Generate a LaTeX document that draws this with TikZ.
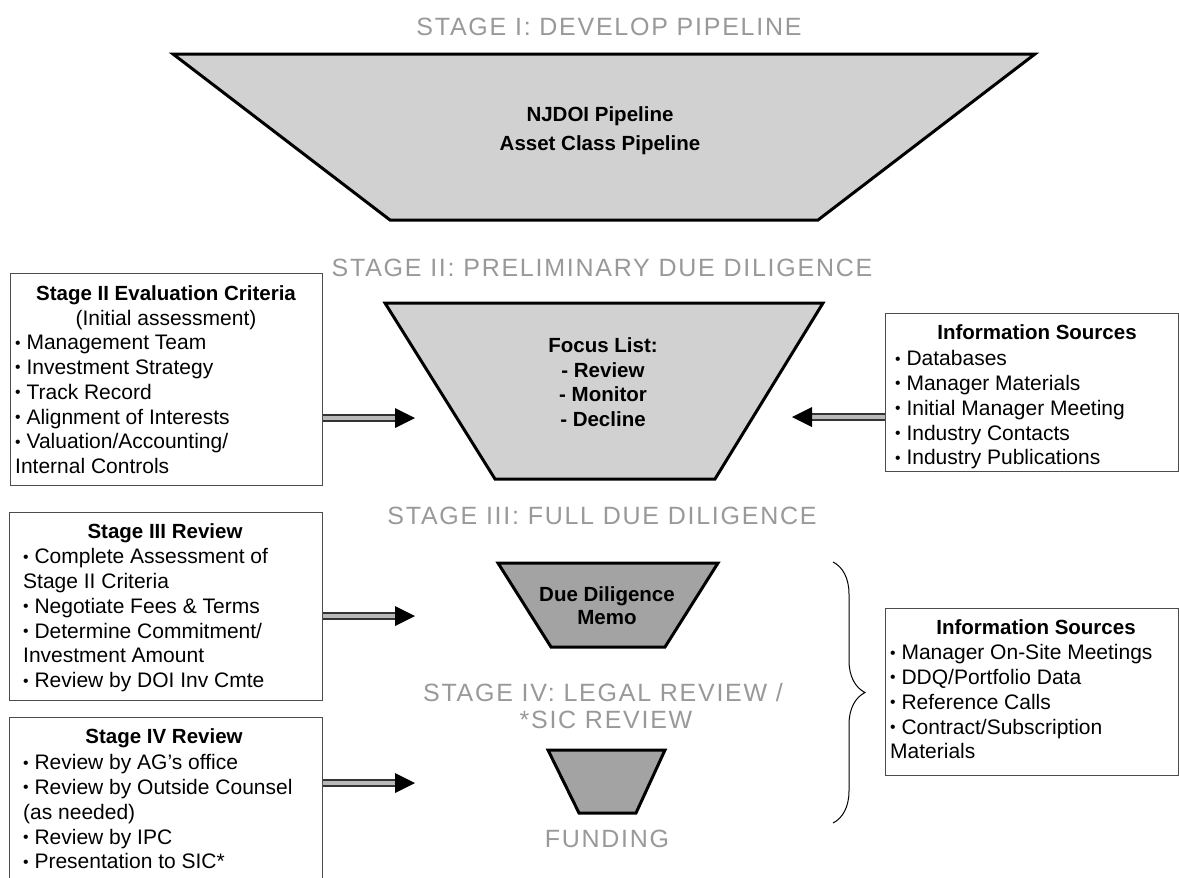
\documentclass[tikz,border=0pt]{standalone}
\usepackage{fontspec}
\setmainfont{Liberation Sans}
\newfontfamily\stagefont[LetterSpace=7]{Liberation Sans}
\usetikzlibrary{decorations.pathreplacing,calc}
\definecolor{lightfill}{gray}{0.82}
\definecolor{darkfill}{gray}{0.64}
\newcommand{\firstln}{\rule{0pt}{17pt}}
\newcommand{\bul}{\raisebox{0.08em}{\scalebox{0.75}{•}}\ }
\begin{document}
\begin{tikzpicture}[x=1pt,y=-1pt,
  stagetitle/.style={inner sep=0pt, anchor=base, text=black!40, font=\stagefont\fontsize{25}{28}\selectfont},
  funnellight/.style={draw=black, line width=3pt, fill=lightfill},
  funneldark/.style={draw=black, line width=3pt, fill=darkfill},
  boxframe/.style={draw=black!70, line width=0.8pt, inner sep=0pt, anchor=north west},
  boxtitle/.style={inner sep=0pt, anchor=base, font=\bfseries\fontsize{20.5}{24.8}\selectfont},
  boxline/.style={inner sep=0pt, anchor=base, font=\fontsize{21}{24.8}\selectfont},
  boxlist/.style={inner sep=0pt, anchor=north west, align=left, font=\fontsize{21}{24.8}\selectfont},
  funneltext/.style={inner sep=0pt, anchor=north, align=center, font=\bfseries\fontsize{20.5}{24.8}\selectfont},
  shaft/.style={draw=black!80, line width=2pt, double=gray!55, double distance=4pt},
  bracestyle/.style={decorate, decoration={brace, amplitude=32pt}, line width=1pt}
]
\useasboundingbox (0,0) rectangle (1179,878);
\fill[white] (0,0) rectangle (1179,878);

% ---------- Stage titles ----------
\node[stagetitle] (s1) at (609,35) {STAGE I: DEVELOP PIPELINE};
\node[stagetitle] (s2) at (602,276) {STAGE II: PRELIMINARY DUE DILIGENCE};
\node[stagetitle] (s3) at (602,524) {STAGE III: FULL DUE DILIGENCE};
\node[stagetitle] (s4a) at (603,701) {STAGE IV: LEGAL REVIEW /};
\node[stagetitle] (s4b) at (606,728) {*SIC REVIEW};
\node[stagetitle] (s5) at (607,847) {FUNDING};

% ---------- Funnel shapes ----------
\draw[funnellight] (173,54) -- (1035,54) -- (818,220) -- (390,220) -- cycle;
\node[funneltext, font=\bfseries\fontsize{20.5}{29}\selectfont] (f1) at (600,104)
  {\firstln NJDOI Pipeline\\Asset Class Pipeline};

\draw[funnellight] (385,303) -- (823,303) -- (715,479) -- (495,479) -- cycle;
\node[funneltext] (f2) at (603,335)
  {\firstln Focus List:\\- Review\\- Monitor\\- Decline};

\draw[funneldark] (498,563) -- (718,563) -- (665,647) -- (551,647) -- cycle;
\node[funneltext, font=\bfseries\fontsize{20.5}{23}\selectfont] (f3) at (607,584.5)
  {\firstln Due Diligence\\Memo};

\draw[funneldark] (548,750) -- (665,750) -- (636,813) -- (579,813) -- cycle;

% ---------- Left boxes ----------
\node[boxframe, minimum width=312pt, minimum height=212pt] (b1) at (10,273) {};
\node[boxtitle] (b1t) at (166,300) {Stage II Evaluation Criteria};
\node[boxline] (b1s) at (166,325) {(Initial assessment)};
\node[boxlist] (b1l) at (15,332.5)
  {\firstln \bul Management Team\\\bul Investment Strategy\\\bul Track Record\\\bul Alignment of Interests\\\bul Valuation/Accounting/\\Internal Controls};

\node[boxframe, minimum width=313pt, minimum height=188pt] (b2) at (9,512) {};
\node[boxtitle] (b2t) at (165,538.5) {Stage III Review};
\node[boxlist] (b2l) at (23,546.5)
  {\firstln \bul Complete Assessment of\\Stage II Criteria\\\bul Negotiate Fees \& Terms\\\bul Determine Commitment/\\Investment Amount\\\bul Review by DOI Inv Cmte};

\node[boxframe, minimum width=313pt, minimum height=180pt] (b3) at (9,717) {};
\node[boxtitle] (b3t) at (164,743.5) {Stage IV Review};
\node[boxlist] (b3l) at (23,752.5)
  {\firstln \bul Review by AG’s office\\\bul Review by Outside Counsel\\(as needed)\\\bul Review by IPC\\\bul Presentation to SIC*};

% ---------- Right boxes ----------
\node[boxframe, minimum width=293pt, minimum height=158pt] (r1) at (885,313) {};
\node[boxtitle] (r1t) at (1037,339.5) {Information Sources};
\node[boxlist] (r1l) at (895,348.5)
  {\firstln \bul Databases\\\bul Manager Materials\\\bul Initial Manager Meeting\\\bul Industry Contacts\\\bul Industry Publications};

\node[boxframe, minimum width=293pt, minimum height=167pt] (r2) at (885,608) {};
\node[boxtitle] (r2t) at (1036,634.5) {Information Sources};
\node[boxlist] (r2l) at (890,642.5)
  {\firstln \bul Manager On-Site Meetings\\\bul DDQ/Portfolio Data\\\bul Reference Calls\\\bul Contract/Subscription\\Materials};

% ---------- Arrows ----------
\coordinate (t1) at (415,418);
\draw[shaft] (b1.east |- t1) -- ($(t1)+(-19,0)$);
\fill[black] (t1) -- ++(-20,-10) -- ++(0,20) -- cycle;

\coordinate (t2) at (792,417);
\draw[shaft] (r1.west |- t2) -- ($(t2)+(19,0)$);
\fill[black] (t2) -- ++(20,-10) -- ++(0,20) -- cycle;

\coordinate (t3) at (415,616);
\draw[shaft] (b2.east |- t3) -- ($(t3)+(-19,0)$);
\fill[black] (t3) -- ++(-20,-10) -- ++(0,20) -- cycle;

\coordinate (t4) at (415,783);
\draw[shaft] (b3.east |- t4) -- ($(t4)+(-19,0)$);
\fill[black] (t4) -- ++(-20,-10) -- ++(0,20) -- cycle;

% ---------- Brace ----------
\coordinate (bt) at (833,562);
\coordinate (bb) at (833,823);
\draw[bracestyle] (bt) -- (bb);
\end{tikzpicture}
\end{document}
